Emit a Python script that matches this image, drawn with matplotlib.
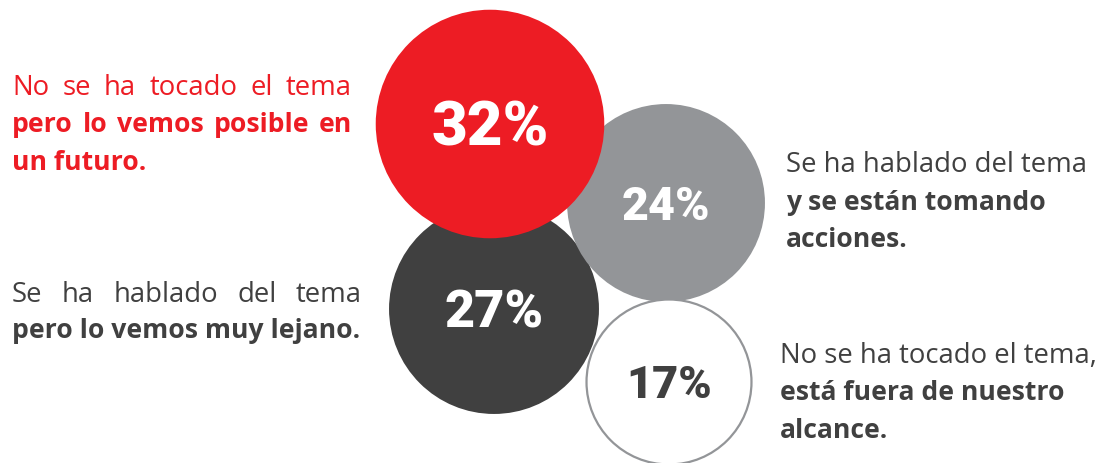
import numpy as np
import matplotlib.pyplot as plt
from matplotlib.patches import Circle

# survey shares, one bubble each
shares = [27, 24, 32, 17]
share_labels = ["27%", "24%", "32%", "17%"]
fill_colors = ["#404040", "#939598", "#ED1C24", "#FFFFFF"]
number_colors = ["#FFFFFF", "#FFFFFF", "#FFFFFF", "#404040"]

# text blocks: (lines, weights)
left_top = ["No se ha tocado el tema", "pero lo vemos posible en", "un futuro."]
left_top_bold = [False, True, True]
left_bottom = ["Se ha hablado del tema", "pero lo vemos muy lejano."]
left_bottom_bold = [False, True]
right_top = ["Se ha hablado del tema", "y se están tomando", "acciones."]
right_top_bold = [False, True, True]
right_bottom = ["No se ha tocado el tema,", "está fuera de nuestro", "alcance."]
right_bottom_bold = [False, True, True]

RED = "#ED1C24"
DARK = "#404040"
W, H = 1106, 463

fig = plt.figure(figsize=(W / 100, H / 100), dpi=100)
ax = fig.add_axes([0, 0, 1, 1])
ax.set_xlim(0, W)
ax.set_ylim(H, 0)
ax.set_aspect("equal")
ax.axis("off")

# bubble area proportional to share
k = 20.2
centers = [(494, 309), (666, 203), (490, 124), (669, 382)]
num_sizes = [37.5, 33.5, 44.5, 32.5]
for i, v in enumerate(shares):
    r = k * np.sqrt(v)
    cx, cy = centers[i]
    edge = "#939598" if fill_colors[i] == "#FFFFFF" else "none"
    lw = 1.6 if edge != "none" else 0
    if edge != "none":
        r -= 0.8
    ax.add_patch(Circle((cx, cy), r, facecolor=fill_colors[i], edgecolor=edge,
                        linewidth=lw, zorder=i + 1))
    cap = num_sizes[i] / 0.72 * 0.711
    ax.text(cx, cy + cap / 2, share_labels[i], ha="center", va="baseline",
            fontsize=num_sizes[i], fontfamily="Roboto", fontweight="black",
            color=number_colors[i], zorder=10)

fig.canvas.draw()
renderer = fig.canvas.get_renderer()
FS_REG = 19.8
FS_BOLD = 19.1
FONT = "Open Sans"


def draw_block(lines, bolds, x0, y0, color, x1=None, step=37.5):
    n = len(lines)
    for j, (line, b) in enumerate(zip(lines, bolds)):
        y = y0 + j * step
        weight = "bold" if b else "normal"
        fs = FS_BOLD if b else FS_REG
        justify = x1 is not None and j < n - 1
        if not justify:
            ax.text(x0, y, line, ha="left", va="baseline", fontsize=fs,
                    fontfamily=FONT, fontweight=weight, color=color)
            continue
        words = line.split(" ")
        texts = [ax.text(0, y, w, ha="left", va="baseline", fontsize=fs,
                         fontfamily=FONT, fontweight=weight, color=color)
                 for w in words]
        widths = [t.get_window_extent(renderer).width for t in texts]
        gap = (x1 - x0 - sum(widths)) / (len(words) - 1)
        x = x0
        for t, wd in zip(texts, widths):
            t.set_x(x)
            x += wd + gap


draw_block(left_top, left_top_bold, 12, 95, RED, x1=352)
draw_block(left_bottom, left_bottom_bold, 12, 302, DARK, x1=362, step=36)
draw_block(right_top, right_top_bold, 786, 172, DARK)
draw_block(right_bottom, right_bottom_bold, 780, 363, DARK)

fig.savefig("out.png", dpi=100)
